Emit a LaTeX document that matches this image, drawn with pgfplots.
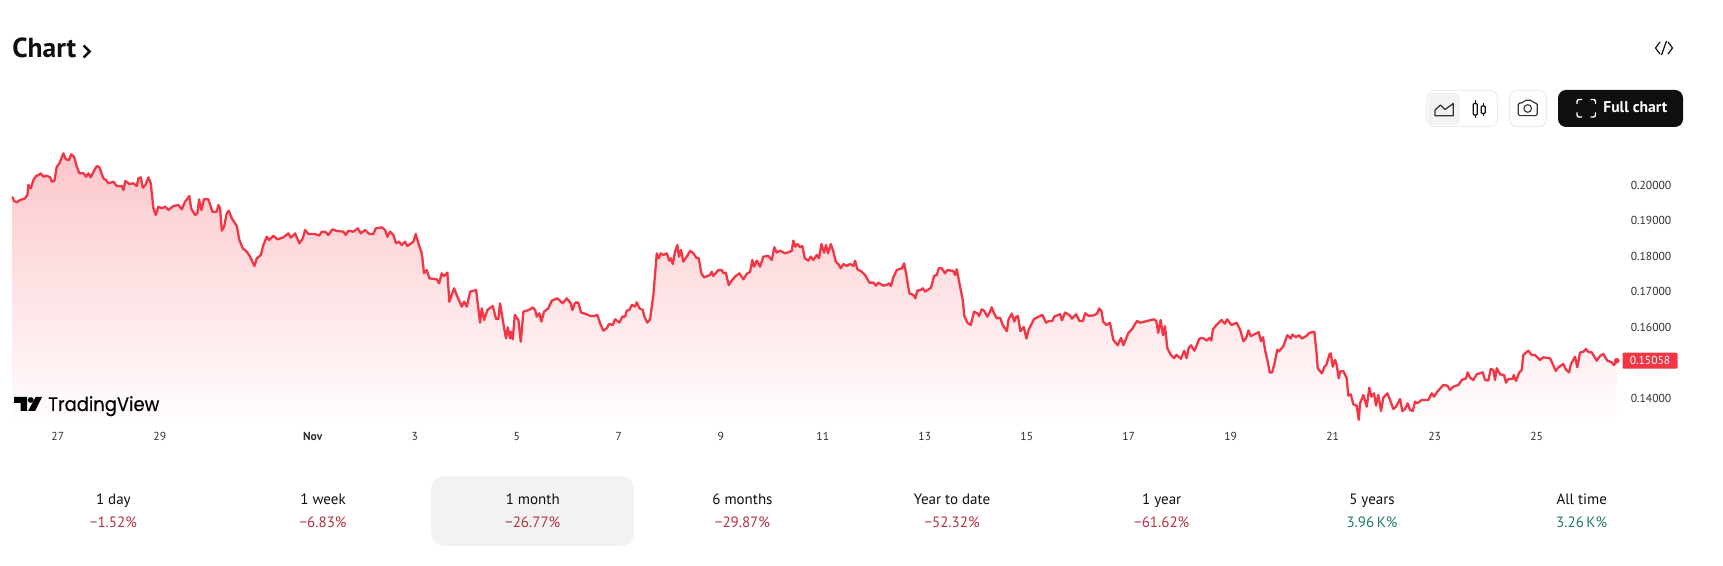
\documentclass[border=0pt]{standalone}
\usepackage{fontspec}
\setmainfont{PT Sans}
\newfontfamily\pop[FakeBold=0.35]{Poppins}
\usepackage{pgfplots}
\usepackage{pgfplotstable}
\pgfplotsset{compat=1.18}
\definecolor{tvred}{HTML}{F23645}
\definecolor{tickc}{HTML}{2E2E2E}
\definecolor{negc}{HTML}{B5303F}
\definecolor{posc}{HTML}{22786C}
\definecolor{tabc}{HTML}{F2F2F2}
\definecolor{inkc}{HTML}{0F0F0F}
\definecolor{edgec}{HTML}{ECECEC}
\definecolor{iconc}{HTML}{333333}
\pgfplotstableread{
x y
12.3 .19679
14 .19557
16.7 .19520
20 .19585
25 .19632
27.3 .19726
28.3 .20008
30.7 .19914
33.3 .20149
36 .20261
38.3 .20290
40.7 .20337
43.3 .20243
46.7 .20271
50 .20224
51.7 .20102
54.3 .20121
56.7 .20524
59.3 .20618
63.3 .20900
65.7 .20731
69 .20712
71 .20872
74 .20806
76.7 .20524
79.3 .20337
83.3 .20337
86 .20243
88.3 .20337
90.7 .20224
94.3 .20430
96.7 .20543
99.3 .20506
103.3 .20196
106 .20149
108.3 .20055
113.3 .20102
116.7 .19980
121.7 .19980
123.3 .19867
125.3 .20121
129.3 .20036
133.3 .20055
136.7 .19980
138.3 .20196
140.7 .20224
142.7 .19933
145.3 .20008
148.3 .20224
150.7 .20055
153.3 .19351
155.7 .19163
158.3 .19398
161.7 .19351
165 .19398
168.3 .19304
173.3 .19416
178.3 .19445
181.7 .19322
185 .19538
189.3 .19698
191 .19351
195 .19163
197.3 .19210
199 .19604
201.3 .19304
204 .19614
208.3 .19604
212.3 .19257
216.7 .19257
218.3 .19445
220 .19351
221.7 .18722
224 .18834
226.7 .19210
228.7 .19285
231.7 .19069
236.7 .18853
239.3 .18459
242.7 .18224
246.7 .18130
250 .17989
254.3 .17726
256.7 .17942
260.7 .18036
263.3 .18318
266.7 .18552
269.3 .18459
273.3 .18581
277.3 .18477
283.3 .18534
288.3 .18646
290.7 .18524
295 .18646
299.3 .18365
302.7 .18506
305 .18740
308.3 .18628
315 .18628
319 .18581
321.7 .18693
325 .18693
328.3 .18599
332.3 .18759
336.7 .18712
343.3 .18693
345.7 .18599
348.3 .18722
353.3 .18693
357.7 .18787
360.7 .18646
365 .18740
369.3 .18628
373.3 .18628
375.7 .18787
381.7 .18815
385 .18740
387.3 .18552
390 .18693
393.3 .18599
396 .18365
399 .18412
401.7 .18318
405 .18412
407.3 .18290
413.3 .18412
415.7 .18628
418.3 .18365
421.7 .18083
424 .17520
426.7 .17613
429.3 .17379
436.7 .17351
439 .17238
441.7 .17520
444 .17444
447.3 .17538
449.3 .16721
454 .17097
457.3 .16862
461.7 .16581
464 .16721
466.7 .16581
470 .17003
476 .17050
480 .16130
481.7 .16534
484 .16205
487.3 .16487
492.7 .16599
496 .16233
498.3 .16233
500 .16675
502.7 .16206
505 .15830
506 .15689
507.7 .15999
510 .15689
511.3 .15877
512.7 .15661
514.7 .16347
518.3 .16206
520.7 .15596
523.3 .16441
526.7 .16469
530 .16506
532.7 .16563
535 .16488
536.7 .16300
539.3 .16394
541.3 .16159
544 .16441
548.3 .16535
551.7 .16751
557.3 .16816
562.7 .16675
566.7 .16816
570.7 .16675
572.3 .16488
575 .16694
578.3 .16694
581 .16412
586 .16375
590 .16319
594 .16319
597.3 .16347
600 .16112
603.3 .15905
606.7 .15971
609 .16093
612.7 .16065
615 .16225
619.3 .16131
622.3 .16300
625 .16300
626.7 .16469
629.3 .16488
631.7 .16628
635 .16581
636.7 .16704
639.3 .16535
642.7 .16488
644.3 .16300
647.3 .16131
650 .16225
653.3 .16910
656.7 .18084
658.7 .17943
660.7 .18084
663.3 .18037
666.7 .18084
669.3 .17877
670.7 .17943
672.7 .17783
675 .18131
677.3 .18319
679 .17990
681 .18178
683.3 .17849
686.7 .17990
690 .18150
693.3 .18084
696.7 .17943
698.7 .17943
701.3 .17520
704 .17408
710 .17474
711.7 .17567
713.3 .17445
718.3 .17614
721.7 .17614
723.3 .17520
725.7 .17539
728.7 .17192
731.7 .17314
735 .17427
739.3 .17520
743.3 .17351
746.7 .17502
750 .17567
752.3 .17896
754 .17708
756.7 .17877
760 .17708
763.3 .17990
768.3 .18009
771.7 .17896
774.3 .18253
776.7 .18103
780 .18159
785 .18084
790 .18131
791.7 .18150
793.3 .18441
795.3 .18272
797.3 .18347
800 .18253
802.3 .18290
804.7 .17943
808.3 .17877
810.7 .17990
813.3 .17896
816.7 .18037
819 .17943
821.3 .18347
824 .18103
826 .18319
828 .18084
830.7 .18347
833.3 .18131
835.7 .17849
838.3 .17783
840.7 .17661
843.3 .17783
846.7 .17727
850 .17783
853.3 .17727
855 .17877
857.3 .17633
861.7 .17567
865 .17474
869.3 .17258
873.3 .17258
876 .17173
878.3 .17258
883.3 .17173
886.7 .17192
889 .17239
891 .17164
893.3 .17408
896.7 .17614
901.7 .17661
904 .17802
906 .17520
909.3 .16957
913.3 .16910
915.3 .16816
917.3 .17032
920.7 .17051
922.7 .17098
925 .17004
931 .17117
934 .17445
936.7 .17474
938.7 .17661
941.7 .17661
945 .17520
947.3 .17614
953.3 .17586
955 .17474
956.7 .17633
960 .17145
962.7 .16769
964.3 .16319
967.3 .16131
970.7 .16065
974 .16441
977.3 .16394
979 .16319
981.7 .16506
984 .16469
987.3 .16300
990 .16441
991.7 .16563
994 .16394
996.7 .16253
1000 .16272
1002.7 .16063
1006.8 .15891
1008.5 .16225
1011.8 .16387
1014.2 .16158
1015.9 .16291
1017.9 .16320
1020.3 .15891
1023.7 .16006
1026.4 .15682
1028.7 .15939
1033.8 .16225
1037.9 .16291
1042.3 .16349
1046 .16130
1049 .16177
1052.4 .16177
1054.1 .16301
1060.2 .16368
1061.9 .16196
1064.9 .16415
1069.3 .16349
1072 .16244
1076.1 .16368
1079.4 .16177
1082.8 .16177
1085.2 .16396
1088.6 .16320
1094 .16339
1097 .16387
1099 .16530
1101.4 .16463
1103.1 .16158
1106.5 .16063
1109.9 .16130
1113.2 .15653
1117.6 .15492
1121 .15701
1123.4 .15492
1128.4 .15844
1131.8 .15939
1136.9 .16177
1140.3 .16130
1147 .16177
1153.8 .16225
1156.2 .16177
1158.2 .15844
1160.6 .16206
1162.9 .15777
1164.9 .16034
1167.3 .15415
1170.7 .15225
1174.1 .15130
1176.4 .15225
1180.8 .15111
1184.2 .15339
1186.6 .15130
1188.6 .15415
1191 .15492
1194.4 .15339
1199.4 .15682
1202.8 .15701
1206.9 .15625
1209.6 .15701
1211.3 .15625
1212.9 .15939
1216.3 .16063
1221.4 .16206
1224.8 .16101
1227.1 .16225
1231.5 .16063
1236.6 .16130
1240 .15939
1243.4 .15606
1246.1 .15701
1248.4 .15911
1250.8 .15749
1258.6 .15863
1260.9 .15606
1263 .15720
1265.3 .15320
1267.7 .15034
1269.7 .14730
1272.1 .14730
1274.5 .14987
1277.2 .15368
1278.9 .15320
1283.2 .15463
1287.3 .15777
1290.7 .15682
1292.4 .15796
1295.8 .15720
1299.1 .15777
1301.8 .15682
1305.9 .15749
1309.3 .15844
1314.3 .15872
1316.4 .15320
1317.7 .14844
1321.8 .14701
1324.5 .14892
1326.2 .14939
1329.6 .15244
1330.7 .15267
1332.7 .14891
1335 .15079
1336.7 .14938
1338.7 .14562
1340 .14750
1343.3 .14769
1346.7 .14562
1348.3 .14074
1350.7 .14112
1353.3 .13830
1356.7 .13792
1358.7 .13389
1360 .13858
1363.3 .14093
1366.7 .13764
1369.3 .14299
1371.3 .14046
1374 .14140
1376 .13792
1378.3 .14093
1381 .13642
1383.3 .14018
1387.3 .14140
1390 .13952
1393.3 .13698
1396 .13764
1400 .13980
1402.3 .13642
1405 .13698
1407.7 .13858
1410 .13670
1412.7 .13642
1415 .13905
1417.3 .13858
1421.7 .13952
1428.3 .13952
1431.7 .14140
1434 .14046
1437.3 .14187
1443.3 .14374
1447.3 .14356
1450 .14234
1453.3 .14328
1458.3 .14374
1461.7 .14515
1466 .14562
1467.7 .14731
1470 .14581
1473.3 .14515
1476.7 .14675
1482.7 .14731
1485 .14515
1488.3 .14497
1490.7 .14825
1493.3 .14797
1495 .14515
1496.7 .14844
1500 .14675
1504 .14656
1506 .14440
1508.3 .14544
1512.7 .14544
1513.7 .14656
1516 .14487
1519.3 .14731
1521.7 .14797
1523.3 .15220
1528.3 .15342
1531.7 .15220
1535 .15220
1540 .15079
1543.3 .15154
1550 .15126
1552.7 .14966
1555.7 .14769
1558.3 .14872
1563.3 .14966
1565.7 .14816
1569 .14731
1571 .14966
1575 .15173
1577.3 .14872
1580 .15285
1583.3 .15313
1586 .15389
1588.3 .15304
1591.7 .15295
1596.7 .15060
1600 .15191
1603.3 .15248
1607.3 .15060
1611.7 .15013
1614 .14938
1616.7 .15058
}\pricedata
\begin{document}
\begin{tikzpicture}
\path (0,0) rectangle (1723pt,566pt);
\begin{scope}[shift={(0pt,566pt)},x=1pt,y=-1pt]
  % tab highlight
  \fill[tabc,rounded corners=13pt] (431,476) rectangle (634,546);
\end{scope}
\begin{axis}[
  at={(0pt,148pt)},anchor=south west,scale only axis,
  width=1623pt,height=283pt,
  xmin=0,xmax=1623,ymin=0.13445,ymax=0.21417,
  clip=false,
  axis line style={draw=none},
  major tick length=0pt,
  xtick={57.7,159.7,312.7,414.7,516.7,618.7,720.7,822.7,924.7,1026.7,1128.7,1230.7,1332.7,1434.7,1536.7},
  xticklabels={27,29,\textbf{Nov},3,5,7,9,11,13,15,17,19,21,23,25},
  ytick={0.14,0.15,0.16,0.17,0.18,0.19,0.20},
  yticklabel pos=right,
  tick label style={font=\fontsize{11.6pt}{13pt}\selectfont,text=tickc},
  x tick label style={anchor=center,yshift=-18.7pt},
  y tick label style={anchor=center,xshift=28pt,
    /pgf/number format/.cd,fixed,fixed zerofill,precision=5,assume math mode=true},
]
\addplot[draw=none,top color=tvred!28!white,bottom color=tvred!1!white,forget plot]
  table[x=x,y=y]{\pricedata} -- (axis cs:1616.7,0.13445) -- (axis cs:12.3,0.13445) -- cycle;
\addplot[color=tvred,line width=2.3pt,line join=round,no markers]
  table[x=x,y=y]{\pricedata};
\addplot[draw=none,mark=*,mark size=2.6pt,mark options={fill=tvred,draw=tvred}]
  coordinates {(1616.7,0.15058)};
\node[fill=tvred,text=white,rounded corners=1pt,minimum width=55pt,minimum height=16pt,inner sep=0pt,
  font=\fontsize{11.6pt}{13pt}\selectfont] at (axis cs:1650,0.15058) {0.15058};
\end{axis}
\begin{scope}[shift={(0pt,566pt)},x=1pt,y=-1pt]
  % title
  \node[anchor=base west,inner sep=0pt,text=inkc,font=\fontsize{27.5pt}{30pt}\selectfont\bfseries] at (12,57.5) {Chart};
  \draw[inkc,line width=2.6pt] (83.5,45.5) -- (89.5,51.5) -- (83.5,57.5);
  % embed icon
  \draw[inkc,line width=1.2pt] (1660,42) -- (1655.5,48) -- (1660,54);
  \draw[inkc,line width=1.2pt] (1668,42) -- (1672.5,48) -- (1668,54);
  \draw[inkc,line width=1.2pt] (1666.5,41) -- (1661.5,55);
  % chart type group
  \draw[edgec,fill=white,line width=1pt,rounded corners=8pt] (1426.7,90.3) rectangle (1497.3,126.7);
  \fill[tabc,rounded corners=6pt] (1428,93) rectangle (1460,125);
  \draw[iconc,line width=1.3pt,line join=round] (1435,115.7) -- (1453.3,115.7) -- (1453.3,103.5) -- (1445,109.5) -- (1440.5,105) -- (1435,110) -- cycle;
  \draw[inkc,line width=1.2pt] (1475.3,100) -- (1475.3,118.5) (1483.3,103) -- (1483.3,116.5);
  \draw[inkc,fill=white,line width=1.2pt,rounded corners=1pt] (1473.3,103.5) rectangle (1477.3,115);
  \draw[inkc,fill=white,line width=1.2pt,rounded corners=1pt] (1481.3,106) rectangle (1485.3,113.5);
  % camera
  \draw[edgec,fill=white,line width=1pt,rounded corners=8pt] (1509.3,90.3) rectangle (1546.7,126.7);
  \draw[iconc,line width=1.1pt,rounded corners=1.5pt] (1518.2,103) -- (1523,103) -- (1524.5,100.3) -- (1532,100.3) -- (1533.3,103) -- (1537.2,103) -- (1537.2,115.7) -- (1518.2,115.7) -- cycle;
  \draw[iconc,line width=1.1pt] (1527.7,108.5) circle[radius=3.8pt];
  % full chart
  \fill[inkc,rounded corners=8pt] (1558,90) rectangle (1683,127);
  \draw[white,line width=1.4pt,rounded corners=2pt] (1577,104) -- (1577,99.5) -- (1582,99.5);
  \draw[white,line width=1.4pt,rounded corners=2pt] (1590.5,99.5) -- (1595.5,99.5) -- (1595.5,104);
  \draw[white,line width=1.4pt,rounded corners=2pt] (1595.5,112.5) -- (1595.5,117) -- (1590.5,117);
  \draw[white,line width=1.4pt,rounded corners=2pt] (1582,117) -- (1577,117) -- (1577,112.5);
  \node[text=white,inner sep=0pt,anchor=base,font=\fontsize{15.6pt}{17pt}\selectfont] at (1635.3,113) {\textbf{Full chart}};
  % logo
  \fill[black] (14,397) -- (27,397) -- (27,411) -- (20.5,411) -- (20.5,403) -- (14,403) -- cycle;
  \fill[black] (30.6,400) circle[radius=2.9pt];
  \fill[black] (35.5,397) -- (42,397) -- (35,411) -- (28,411) -- cycle;
  \node[anchor=base west,inner sep=0pt,text=black,font=\pop\fontsize{19.5pt}{22pt}\selectfont] at (48,411) {\scalebox{.92}[1]{TradingView}};
  % period rows
  \foreach \cx/\lab/\val/\col in {
    113.3/1 day/−1.52\%/negc,
    323/1 week/−6.83\%/negc,
    532.7/1 month/−26.77\%/negc,
    742.4/6 months/−29.87\%/negc,
    952/Year to date/−52.32\%/negc,
    1161.7/1 year/−61.62\%/negc,
    1372/5 years/3.96\,K\%/posc,
    1581.7/All time/3.26\,K\%/posc}{
    \node[inner sep=0pt,anchor=base,text=inkc,font=\fontsize{15pt}{17pt}\selectfont] at (\cx,504.3) {\lab};
    \node[inner sep=0pt,anchor=base,text=\col,font=\fontsize{15pt}{17pt}\selectfont] at (\cx,527.5) {\val};
  }
\end{scope}
\end{tikzpicture}
\end{document}
